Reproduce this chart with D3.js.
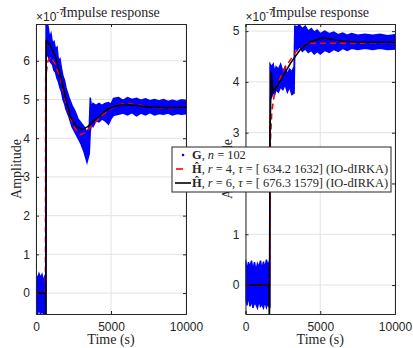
<!DOCTYPE html>
<html>
<head>
<meta charset="utf-8">
<script src="https://cdn.jsdelivr.net/npm/d3@7"></script>
<style>
  body { margin: 0; background: #fff; }
  text { fill: #262626; }
</style>
</head>
<body>
<svg id="chart" width="413" height="348"></svg>
<script>
// ---- data (amplitude in units of 1e-7) ----
var xTicks = [0, 5000, 10000];

// left panel
var leftYTicks = [0, 1, 2, 3, 4, 5, 6];
var leftBlueT  = [0, 100, 200, 300, 400, 500, 600, 660, 670, 800, 900, 1000, 1100, 1200, 1300, 1400, 1500, 1600, 1700, 1800, 1900, 2000, 2200, 2400, 2600, 2800, 3000, 3200, 3400, 3550, 3620, 3700, 3800, 4000, 4200, 4400, 4600, 4830, 5000, 5170, 5500, 5800, 6100, 6400, 6700, 7000, 7300, 7600, 7900, 8200, 8500, 8800, 9100, 9400, 9700, 10000];
var leftBlueHi = [0.5, 0.35, 0.5, 0.4, 0.48, 0.3, 0.45, 0.5, 6.95, 6.9, 6.6, 6.7, 6.45, 6.5, 6.3, 6.35, 6.0, 6.05, 5.8, 5.6, 5.5, 5.3, 5.05, 4.85, 4.7, 4.5, 4.4, 4.3, 4.15, 4.3, 5.05, 4.8, 4.9, 4.85, 4.9, 4.85, 4.9, 4.92, 4.88, 5.03, 5.05, 4.98, 5.05, 5.0, 5.03, 4.98, 5.02, 4.97, 5.0, 4.96, 5.0, 4.95, 4.98, 4.95, 4.99, 4.96];
var leftBlueLo = [-0.5, -0.55, -0.4, -0.55, -0.45, -0.55, -0.5, -0.55, 6.1, 6.15, 6.0, 5.95, 5.9, 5.75, 5.7, 5.55, 5.45, 5.3, 5.2, 5.0, 4.9, 4.75, 4.55, 4.3, 4.15, 4.0, 3.85, 3.65, 3.38, 3.6, 4.2, 4.35, 4.3, 4.45, 4.42, 4.5, 4.45, 4.36, 4.5, 4.59, 4.62, 4.65, 4.6, 4.66, 4.58, 4.65, 4.6, 4.66, 4.6, 4.64, 4.62, 4.65, 4.6, 4.64, 4.62, 4.63];
var leftH4T = [0, 630, 645, 800, 1000, 1300, 1610, 1950, 2280, 2600, 2950, 3300, 3800, 4300, 4800, 5400, 5970, 6800, 7600, 8500, 10000];
var leftH4  = [0, 0, 5.6, 6.0, 6.1, 5.9, 5.56, 5.0, 4.55, 4.25, 4.09, 4.15, 4.35, 4.55, 4.72, 4.85, 4.9, 4.86, 4.8, 4.78, 4.8];
var leftH6T = [0, 640, 660, 680, 700, 940, 1300, 1610, 1950, 2280, 2700, 3070, 3450, 3830, 4300, 4740, 5300, 5840, 6600, 7430, 8540, 10000];
var leftH6  = [0, 0, -0.9, 6.52, 6.52, 6.41, 6.1, 5.64, 5.08, 4.56, 4.3, 4.22, 4.3, 4.44, 4.6, 4.74, 4.83, 4.87, 4.85, 4.81, 4.79, 4.8];

// right panel
var rightYTicks = [0, 1, 2, 3, 4, 5];
var rightBlueT  = [0, 100, 200, 300, 400, 500, 600, 700, 800, 900, 1000, 1100, 1200, 1300, 1400, 1500, 1630, 1640, 1750, 1850, 1950, 2050, 2200, 2350, 2500, 2650, 2800, 2950, 3100, 3250, 3300, 3450, 3600, 3800, 4000, 4200, 4400, 4600, 4800, 5000, 5300, 5600, 5900, 6200, 6500, 6800, 7100, 7500, 8000, 8500, 9000, 9500, 10000];
var rightBlueHi = [0.5, 0.3, 0.45, 0.35, 0.48, 0.3, 0.45, 0.28, 0.42, 0.35, 0.48, 0.3, 0.46, 0.33, 0.5, 0.38, 0.5, 4.35, 4.3, 4.35, 4.2, 4.3, 4.25, 4.35, 4.2, 4.3, 4.15, 4.25, 4.2, 4.3, 5.1, 5.08, 5.12, 5.05, 5.1, 5.0, 5.05, 4.98, 5.02, 4.95, 5.0, 4.95, 4.98, 4.93, 4.96, 4.92, 4.95, 4.92, 4.94, 4.92, 4.94, 4.91, 4.93];
var rightBlueLo = [-0.3, -0.4, -0.2, -0.42, -0.3, -0.45, -0.35, -0.38, -0.45, -0.3, -0.42, -0.38, -0.45, -0.32, -0.44, -0.36, -0.45, 3.65, 3.7, 3.8, 3.75, 3.85, 3.8, 3.9, 3.85, 3.95, 3.8, 3.9, 3.75, 3.78, 4.7, 4.62, 4.7, 4.6, 4.65, 4.58, 4.62, 4.55, 4.6, 4.55, 4.62, 4.58, 4.64, 4.6, 4.66, 4.62, 4.66, 4.64, 4.66, 4.64, 4.66, 4.64, 4.65];
var rightH4T = [0, 1630, 1660, 1760, 1980, 2650, 3430, 4330, 5670, 7000, 8500, 10000];
var rightH4  = [0, 0, 2.8, 3.42, 3.85, 4.28, 4.62, 4.76, 4.76, 4.76, 4.77, 4.78];
var rightH6T = [0, 1570, 1600, 1640, 1720, 1850, 2400, 2990, 3650, 4330, 5200, 6340, 7460, 8500, 10000];
var rightH6  = [0, 0, -0.9, 3.0, 4.2, 3.8, 4.05, 4.36, 4.63, 4.79, 4.87, 4.81, 4.78, 4.78, 4.78];

var svg = d3.select("#chart");
var sans = "'Liberation Sans', Arial, sans-serif";
var serif = "'Liberation Serif', 'Times New Roman', serif";

function panel(id, x0, x1, yDom, yTicks, blueT, blueHi, blueLo, h4T, h4, h6T, h6, ylabX) {
  var top = 24, bottom = 314;
  var x = d3.scaleLinear().domain([0, 10000]).range([x0, x1]);
  var y = d3.scaleLinear().domain(yDom).range([bottom, top]);

  var g = svg.append("g");

  g.append("clipPath").attr("id", "clip" + id)
    .append("rect").attr("x", x0).attr("y", top).attr("width", x1 - x0).attr("height", bottom - top);

  // grid
  g.selectAll(".gx").data(xTicks).enter().append("line")
    .attr("x1", d => x(d)).attr("x2", d => x(d)).attr("y1", top).attr("y2", bottom)
    .attr("stroke", "#e3e3e3").attr("stroke-width", 1);
  g.selectAll(".gy").data(yTicks).enter().append("line")
    .attr("x1", x0).attr("x2", x1).attr("y1", d => y(d)).attr("y2", d => y(d))
    .attr("stroke", "#e3e3e3").attr("stroke-width", 1);

  var plot = g.append("g").attr("clip-path", "url(#clip" + id + ")");

  // measured data band (blue)
  var idx = d3.range(blueT.length);
  plot.append("path").datum(idx)
    .attr("d", d3.area().x(i => x(blueT[i])).y0(i => y(blueLo[i])).y1(i => y(blueHi[i])))
    .attr("fill", "#0000ff").attr("stroke", "#0000ff").attr("stroke-width", 1.5);

  var i4 = d3.range(h4T.length);
  plot.append("path").datum(i4)
    .attr("d", d3.line().x(i => x(h4T[i])).y(i => y(h4[i])))
    .attr("fill", "none").attr("stroke", "#ff0000").attr("stroke-width", 1.6)
    .attr("stroke-dasharray", "6,4");

  var i6 = d3.range(h6T.length);
  plot.append("path").datum(i6)
    .attr("d", d3.line().x(i => x(h6T[i])).y(i => y(h6[i])))
    .attr("fill", "none").attr("stroke", "#000").attr("stroke-width", 1.6);

  // axes (ticks inward, box)
  var ax = g.append("g").attr("font-family", sans).attr("font-size", 12);
  ax.append("g").attr("transform", "translate(0," + bottom + ")")
    .call(d3.axisBottom(x).tickValues(xTicks).tickSize(-3).tickPadding(8).tickFormat(d3.format("d")));
  ax.append("g").attr("transform", "translate(0," + top + ")")
    .call(d3.axisTop(x).tickValues(xTicks).tickSize(-3).tickFormat(""));
  ax.append("g").attr("transform", "translate(" + x0 + ",0)")
    .call(d3.axisLeft(y).tickValues(yTicks).tickSize(-3).tickPadding(6).tickFormat(d3.format("d")));
  ax.append("g").attr("transform", "translate(" + x1 + ",0)")
    .call(d3.axisRight(y).tickValues(yTicks).tickSize(-3).tickFormat(""));
  ax.selectAll(".domain").attr("stroke", "#262626").attr("stroke-width", 1);
  ax.selectAll(".tick line").attr("stroke", "#262626");
  ax.selectAll("text").attr("fill", "#262626").attr("font-family", sans).attr("font-size", 12);

  // exponent (the title sits on top of it, as in the reference)
  var ex = g.append("text").attr("x", x0).attr("y", 21).attr("font-family", sans).attr("font-size", 12);
  ex.append("tspan").text("\u00d710");
  ex.append("tspan").attr("dy", -6).attr("font-size", 9).text("-7");

  // title
  g.append("text").attr("x", (x0 + x1) / 2).attr("y", 17).attr("text-anchor", "middle")
    .attr("font-family", serif).attr("font-size", 14).text("Impulse response");

  // labels
  g.append("text").attr("x", (x0 + x1) / 2).attr("y", 344).attr("text-anchor", "middle")
    .attr("font-family", serif).attr("font-size", 14).text("Time (s)");
  g.append("text").attr("transform", "translate(" + ylabX + ",169) rotate(-90)")
    .attr("text-anchor", "middle").attr("font-family", serif).attr("font-size", 14).text("Amplitude");
}

panel("L", 36, 186, [-0.54, 6.95], leftYTicks, leftBlueT, leftBlueHi, leftBlueLo, leftH4T, leftH4, leftH6T, leftH6, 21);
panel("R", 245.5, 395, [-0.57, 5.14], rightYTicks, rightBlueT, rightBlueHi, rightBlueLo, rightH4T, rightH4, rightH6T, rightH6, 232);

// legend
var lg = svg.append("g").attr("font-family", serif).attr("font-size", 12.4);
lg.append("rect").attr("x", 172).attr("y", 147).attr("width", 219).attr("height", 45)
  .attr("fill", "#fff").attr("stroke", "#262626").attr("stroke-width", 1);

var rows = [155, 169, 183];
lg.append("circle").attr("cx", 183).attr("cy", rows[0]).attr("r", 1.3).attr("fill", "#0000ff");
lg.append("line").attr("x1", 176).attr("x2", 183).attr("y1", rows[1]).attr("y2", rows[1])
  .attr("stroke", "#ff0000").attr("stroke-width", 1.6);
lg.append("line").attr("x1", 175).attr("x2", 191).attr("y1", rows[2]).attr("y2", rows[2])
  .attr("stroke", "#000").attr("stroke-width", 1.6);

function mathText(yv, parts) {
  var t = lg.append("text").attr("x", 192).attr("y", yv + 4).attr("fill", "#000");
  parts.forEach(function (p) {
    var s = t.append("tspan").text(p[0]);
    if (p[1] === "b") s.attr("font-weight", "bold");
    if (p[1] === "i") s.attr("font-style", "italic");
  });
}
mathText(rows[0], [["G", "b"], [", "], ["n", "i"], [" = 102"]]);
mathText(rows[1], [["\u0124", "b"], [", "], ["r", "i"], [" = 4, "], ["\u03c4", "i"], [" = [ 634.2 1632] (IO-dIRKA)"]]);
mathText(rows[2], [["\u0124", "b"], [", "], ["r", "i"], [" = 6, "], ["\u03c4", "i"], [" = [ 676.3 1579] (IO-dIRKA)"]]);
</script>
</body>
</html>
